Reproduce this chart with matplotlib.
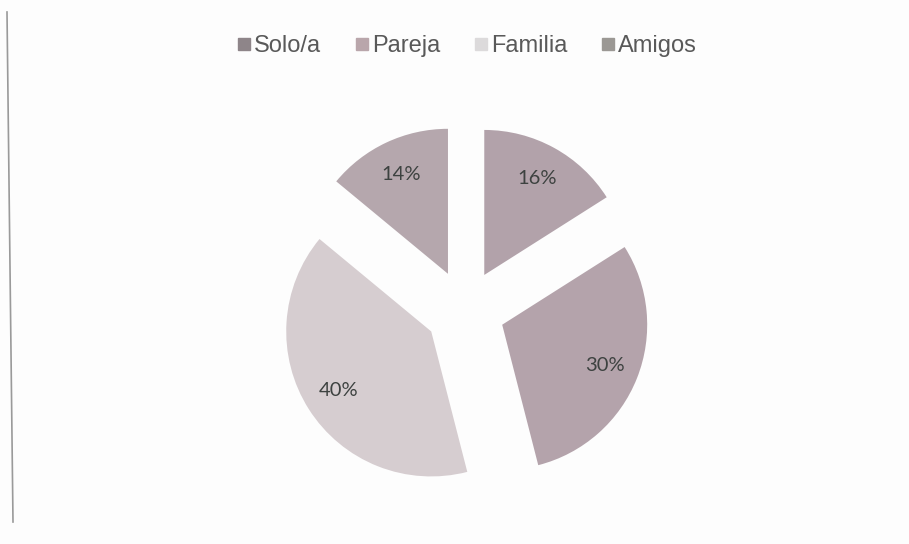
import matplotlib.pyplot as plt
from matplotlib.lines import Line2D

# data
categories = ['Solo/a', 'Pareja', 'Familia', 'Amigos']
values = [16, 30, 40, 14]
slice_colors = ['#b2a2aa', '#b4a3ab', '#d6cdd0', '#b5a7ad']
legend_colors = ['#8e8589', '#b9a6ab', '#dcdadb', '#9b9894']

W, H = 909, 544
fig = plt.figure(figsize=(W / 100, H / 100), dpi=100)
fig.patch.set_facecolor('#fdfdfd')

# axes in pixel units
ax = fig.add_axes([0, 0, 1, 1])

wedges, texts, autotexts = ax.pie(
    values, colors=slice_colors, startangle=90, counterclock=False,
    center=(465, H - 310), radius=145, explode=[40] * 4,
    autopct='%d%%', pctdistance=0.76, frame=True,
    wedgeprops=dict(linewidth=0),
    textprops=dict(fontsize=14.5, color='#3d4240', family='Lato'))
ax.set_xlim(0, W)
ax.set_ylim(0, H)
ax.set_aspect('equal')
ax.axis('off')

# left border line from scan
ax.plot([7, 13], [H - 12, H - 522], color='#9a9a9a', lw=1.2)

handles = [Line2D([], [], marker='s', ls='none', markersize=8,
                  markerfacecolor=c, markeredgecolor=c) for c in legend_colors]
fig.legend(handles, categories, loc='center', bbox_to_anchor=(0.514, 1 - 46 / H),
           ncol=4, frameon=False, handlelength=0.55, handletextpad=0.15,
           columnspacing=1.45,
           prop=dict(family='Liberation Sans', size=17), labelcolor='#595959')

fig.savefig('out.png', dpi=100, facecolor=fig.get_facecolor())
